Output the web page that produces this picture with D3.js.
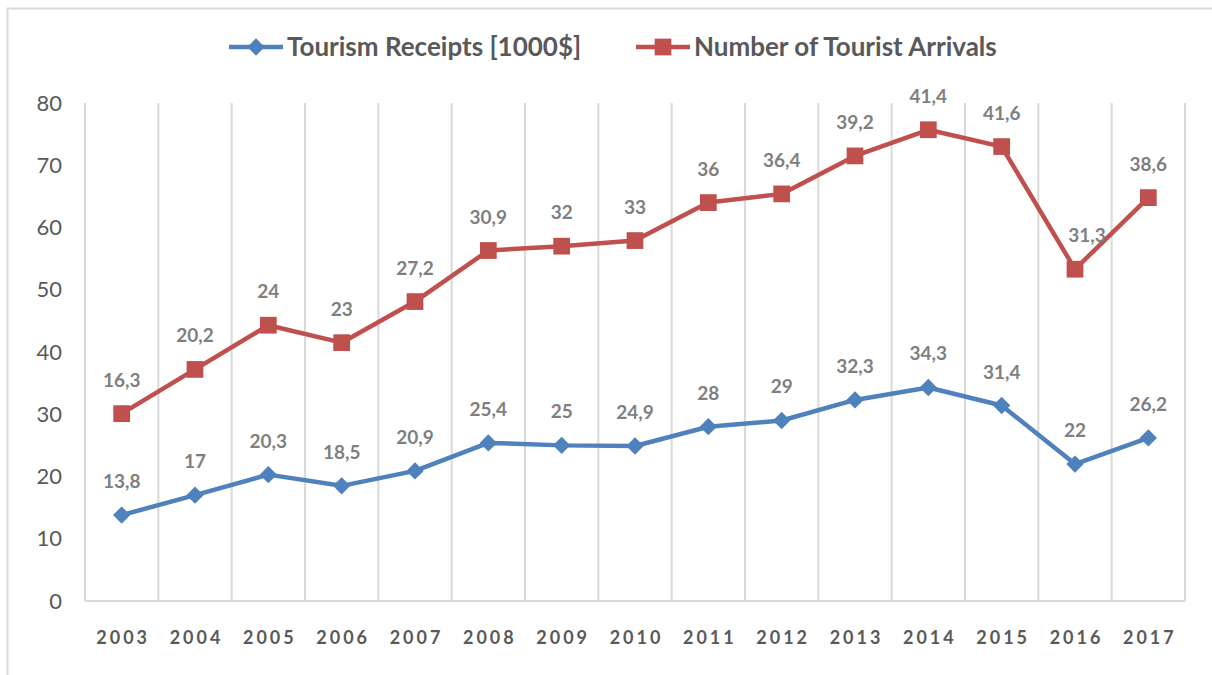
<!DOCTYPE html>
<html>
<head>
<meta charset="utf-8">
<script src="https://cdn.jsdelivr.net/npm/d3@7"></script>
<style>
  body { margin: 0; background: #fff; }
  svg text { font-family: Lato, "Open Sans", sans-serif; }
</style>
</head>
<body>
<div id="chart"></div>
<script>
// chart data (stacked line chart: arrivals are drawn on top of receipts)
const years = ['2003', '2004', '2005', '2006', '2007', '2008', '2009', '2010',
  '2011', '2012', '2013', '2014', '2015', '2016', '2017'];
const receipts = [13.8, 17, 20.3, 18.5, 20.9, 25.4, 25, 24.9, 28, 29, 32.3, 34.3, 31.4, 22, 26.2];
const arrivals = [16.3, 20.2, 24, 23, 27.2, 30.9, 32, 33, 36, 36.4, 39.2, 41.4, 41.6, 31.3, 38.6];
const yTicks = [0, 10, 20, 30, 40, 50, 60, 70, 80];
const seriesNames = ['Tourism Receipts [1000$]', 'Number of Tourist Arrivals'];

const width = 1212, height = 675;
const margin = { top: 103, right: 27, bottom: 74, left: 85 };
const blue = '#4f81bd', red = '#c0504d';
const fmt = v => String(v).replace('.', ',');

const svg = d3.select('#chart').append('svg')
  .attr('width', width)
  .attr('height', height);

// outer chart border
svg.append('rect')
  .attr('x', 7.5).attr('y', 8.5)
  .attr('width', width - 6).attr('height', height)
  .attr('fill', 'none')
  .attr('stroke', '#d9d9d9')
  .attr('stroke-width', 2);

const x = d3.scaleBand()
  .domain(years)
  .range([margin.left, width - margin.right]);

const y = d3.scaleLinear()
  .domain([0, 80])
  .range([height - margin.bottom, margin.top]);

// vertical gridlines between categories
const gridX = years.map(d => x(d)).concat([x.range()[1]]);
svg.append('g').selectAll('line')
  .data(gridX).enter()
  .append('line')
  .attr('x1', d => d).attr('x2', d => d)
  .attr('y1', y(80)).attr('y2', y(0))
  .attr('stroke', '#d9d9d9')
  .attr('stroke-width', 2);

// baseline
svg.append('line')
  .attr('x1', x.range()[0]).attr('x2', x.range()[1])
  .attr('y1', y(0)).attr('y2', y(0))
  .attr('stroke', '#d9d9d9')
  .attr('stroke-width', 2);

// y axis labels
const yAxis = svg.append('g')
  .attr('transform', `translate(${margin.left - 23},0)`)
  .call(d3.axisLeft(y).tickValues(yTicks).tickSize(0).tickPadding(0));
yAxis.select('.domain').remove();
yAxis.selectAll('text')
  .attr('font-size', 22)
  .attr('fill', '#595959');

// x axis labels
const xAxis = svg.append('g')
  .attr('transform', `translate(0,${y(0)})`)
  .call(d3.axisBottom(x).tickSize(0).tickPadding(30));
xAxis.select('.domain').remove();
xAxis.selectAll('text')
  .attr('font-size', 18)
  .attr('font-weight', 'bold')
  .attr('letter-spacing', '3px')
  .attr('dx', '1.5px')
  .attr('fill', '#595959');

// series
const stacked = receipts.map((d, i) => d + arrivals[i]);
const series = [
  { name: seriesNames[0], color: blue, pos: receipts, labels: receipts, shape: d3.symbolSquare, size: 150, rotate: 45 },
  { name: seriesNames[1], color: red, pos: stacked, labels: arrivals, shape: d3.symbolSquare, size: 280, rotate: 0 }
];

const cx = d => x(d) + x.bandwidth() / 2;
const line = d3.line()
  .x(d => cx(d.year))
  .y(d => y(d.value));

series.forEach(s => {
  const pts = years.map((yr, i) => ({ year: yr, value: s.pos[i], label: s.labels[i] }));
  const g = svg.append('g');
  g.append('path')
    .datum(pts)
    .attr('d', line)
    .attr('fill', 'none')
    .attr('stroke', s.color)
    .attr('stroke-width', 4.5)
    .attr('stroke-linejoin', 'round');
  g.selectAll('path.marker')
    .data(pts).enter()
    .append('path')
    .attr('class', 'marker')
    .attr('d', d3.symbol().type(s.shape).size(s.size))
    .attr('transform', d => `translate(${cx(d.year)},${y(d.value)}) rotate(${s.rotate})`)
    .attr('fill', s.color);
  g.selectAll('text')
    .data(pts).enter()
    .append('text')
    .attr('x', d => cx(d.year) + (s.color === red && d.year === '2016' ? 12 : 0))
    .attr('y', d => y(d.value) - 27)
    .attr('text-anchor', 'middle')
    .attr('font-size', 19)
    .attr('font-weight', 'bold')
    .attr('fill', '#7f7f7f')
    .text(d => fmt(d.label));
});

// legend
const legend = svg.append('g').attr('transform', 'translate(0,47)');
const legendX = [229, 636];
series.forEach((s, i) => {
  const lg = legend.append('g').attr('transform', `translate(${legendX[i]},0)`);
  lg.append('line')
    .attr('x1', 0).attr('x2', 54)
    .attr('stroke', s.color)
    .attr('stroke-width', 4.5);
  lg.append('path')
    .attr('d', d3.symbol().type(s.shape).size(s.size))
    .attr('transform', `translate(27,0) rotate(${s.rotate})`)
    .attr('fill', s.color);
  lg.append('text')
    .attr('x', 58)
    .attr('dy', '0.35em')
    .attr('font-size', 26)
    .attr('font-weight', 'bold')
    .attr('fill', '#595959')
    .text(s.name);
});
</script>
</body>
</html>
